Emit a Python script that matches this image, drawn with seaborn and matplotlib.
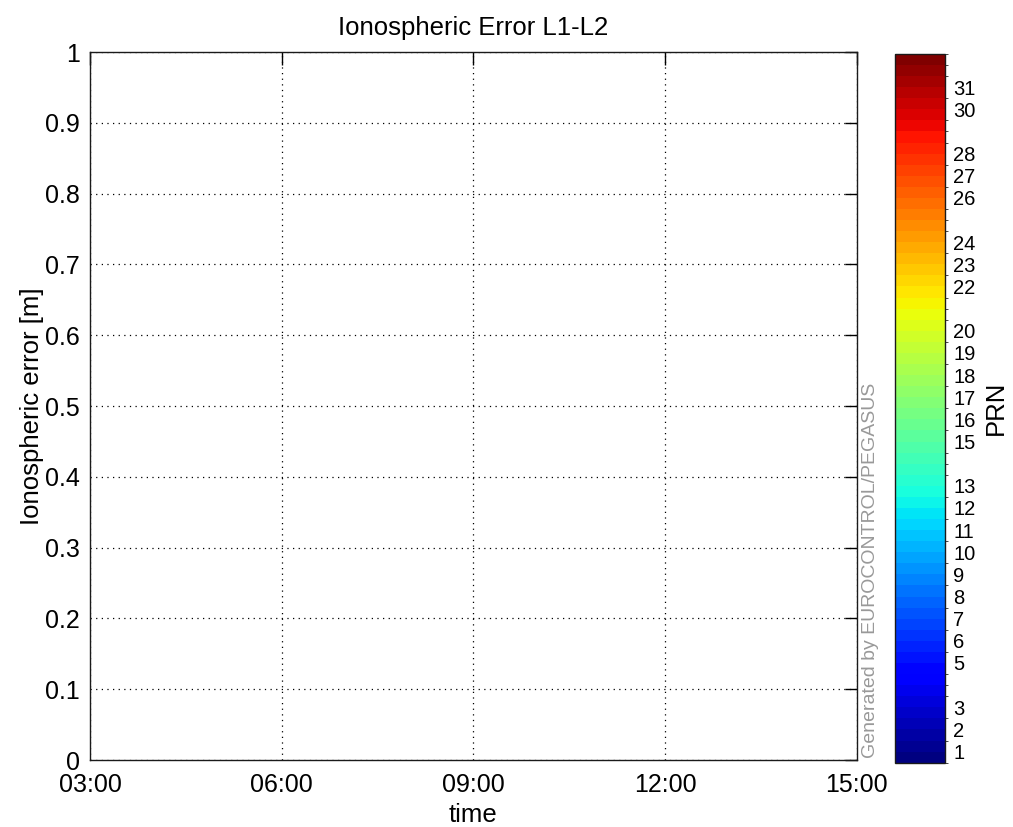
"""
Ionospheric Error L1-L2 (PEGASUS style) — empty time axis with PRN colorbar.
"""

import matplotlib

matplotlib.use("Agg")
import matplotlib.pyplot as plt
from matplotlib.colors import ListedColormap, BoundaryNorm
from matplotlib.colorbar import ColorbarBase
import numpy as np
import seaborn as sns

# Данные (на графике нет ни одной точки)
time_hours = []
iono_error = []
sat_prn = []

x_ticks = [3, 6, 9, 12, 15]
x_tick_labels = ["03:00", "06:00", "09:00", "12:00", "15:00"]
y_ticks = [0, 0.1, 0.2, 0.3, 0.4, 0.5, 0.6, 0.7, 0.8, 0.9, 1]
y_tick_labels = ["0", "0.1", "0.2", "0.3", "0.4", "0.5", "0.6", "0.7", "0.8", "0.9", "1"]
prn_ticks = [1, 2, 3, 5, 6, 7, 8, 9, 10, 11, 12, 13, 15, 16, 17, 18, 19, 20,
             22, 23, 24, 26, 27, 28, 30, 31]
prn_min, prn_max = 1, 32

sns.set_style("white")
plt.rcParams["font.family"] = ["Liberation Sans", "DejaVu Sans"]
plt.rcParams["text.color"] = "black"
plt.rcParams["axes.labelcolor"] = "black"

fig = plt.figure(figsize=(10.13, 8.27), dpi=100)
ax = fig.add_axes([0.0888, 0.081, 0.757, 0.856])
cax = fig.add_axes([0.8835, 0.0778, 0.0494, 0.857])

# Цветовая шкала PRN (jet, 64 уровня)
n_levels = 64
jet = matplotlib.colormaps["jet"].resampled(n_levels)
palette = sns.color_palette([jet(i) for i in range(n_levels)])
cmap = ListedColormap(palette)
bounds = np.linspace(prn_min - 0.5, prn_max + 0.5, n_levels + 1)
norm = BoundaryNorm(bounds, cmap.N)

if len(time_hours) > 0:
    sns.scatterplot(x=time_hours, y=iono_error, hue=sat_prn, palette=cmap,
                    hue_norm=norm, legend=False, ax=ax, s=6, linewidth=0)

ax.set_xlim(x_ticks[0], x_ticks[-1])
ax.set_ylim(0, 1)
ax.set_xticks(x_ticks)
ax.set_xticklabels(x_tick_labels)
ax.set_yticks(y_ticks)
ax.set_yticklabels(y_tick_labels)
ax.tick_params(direction="in", length=9, width=1, top=True, right=True,
               labelsize=18, colors="black")
ax.tick_params(axis="x", pad=9)
ax.tick_params(axis="y", pad=7)
ax.grid(True, linestyle=(0, (1, 3.5)), color="black", linewidth=0.9)
for sp in ax.spines.values():
    sp.set_color("#1a1a1a")
    sp.set_linewidth(1.0)

ax.set_title("Ionospheric Error L1-L2", fontsize=18.5, pad=12, color="black")
ax.set_xlabel("time", fontsize=18.5, labelpad=5)
ax.set_ylabel("Ionospheric error [m]", fontsize=18.5, labelpad=1)

ax.text(1.018, 0.003, "Generated by EUROCONTROL/PEGASUS", transform=ax.transAxes,
        rotation=90, ha="center", va="bottom", fontsize=14, color="#999999")

cb = ColorbarBase(cax, cmap=cmap, norm=norm, boundaries=bounds,
                  orientation="vertical", ticks=prn_ticks, drawedges=False)
cb.outline.set_edgecolor("#1a1a1a")
cb.outline.set_linewidth(1.0)
cax.tick_params(direction="in", left=True, right=True, length=6, width=1,
                labelsize=14.5, pad=6, colors="black")
cax.set_yticklabels([str(p) for p in prn_ticks])
cb.set_label("PRN", fontsize=18.5, labelpad=6)

fig.savefig("out.png", dpi=100)
plt.close(fig)
